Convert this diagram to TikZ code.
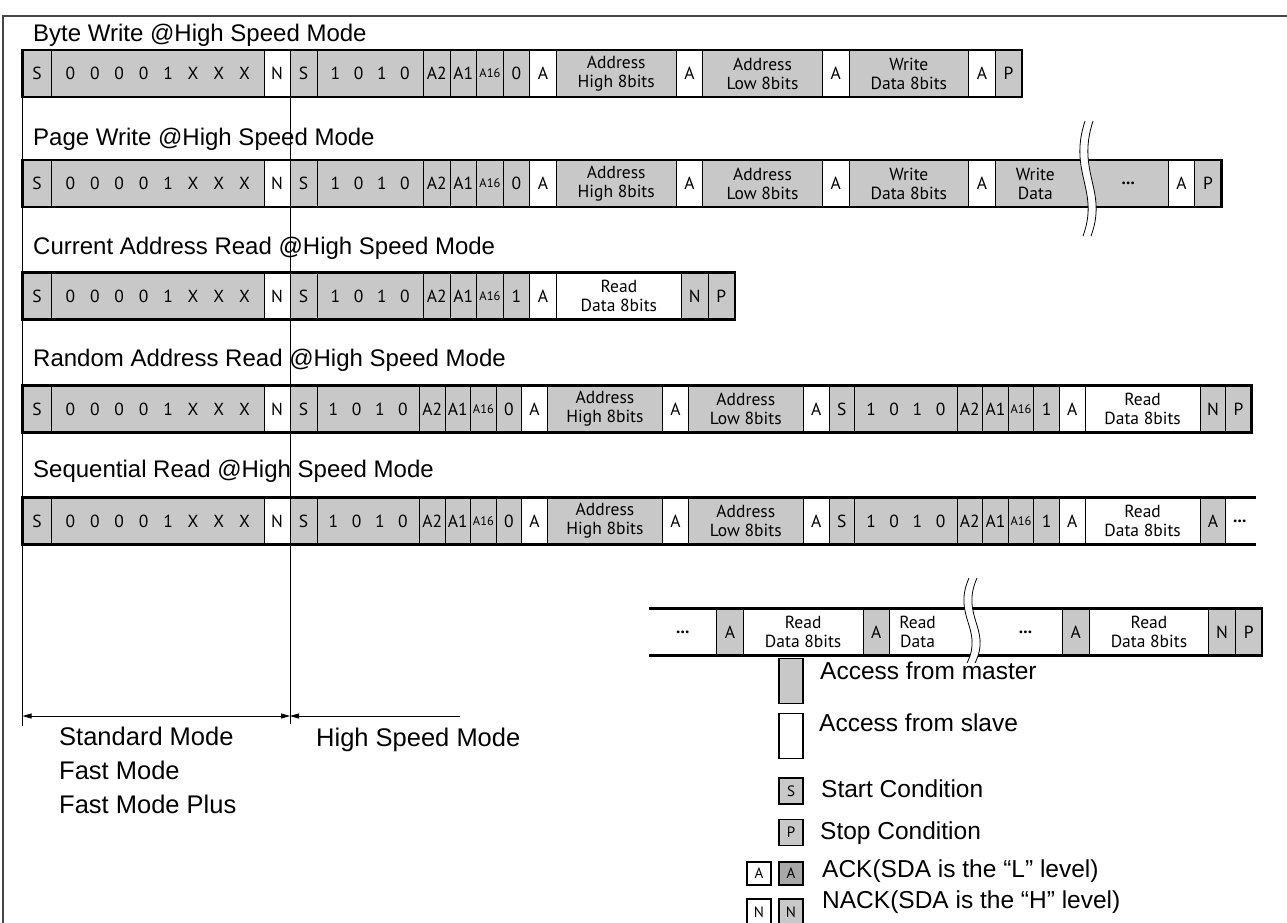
\documentclass[tikz,border=0pt]{standalone}
\usepackage{fontspec}
\setmainfont{Liberation Sans}
\newfontfamily\cellfont{PT Sans}
\usetikzlibrary{positioning,calc,arrows.meta}
\definecolor{mastergray}{RGB}{200,200,200}
\definecolor{ackgray}{RGB}{168,168,168}
\definecolor{frameline}{RGB}{70,70,70}
\newcommand{\cellu}{26.6}
\newcommand{\cellv}{25.6}
\newcommand{\devcode}{0\hspace{.85em}0\hspace{.85em}0\hspace{.85em}0\hspace{.85em}1\hspace{.85em}X\hspace{.85em}X\hspace{.85em}X}
\newcommand{\ctlcode}{1\hspace{.78em}0\hspace{.78em}1\hspace{.78em}0}
\newcommand{\asixteen}{{\fontsize{12.5}{12.5}\selectfont A16}}
\newcommand{\celldots}{\textbf{...}}

% one frame row: name, left x, centre y, list of width/label/fill
\newcommand{\framerow}[4]{%
  \foreach \cw/\lbl/\clr [count=\i, evaluate=\cw as \xe using \xs+\cw,
      remember=\xe as \xs (initially #2)] in {#4}
    \node[cell,fill=\clr,minimum width=\cw pt] (#1-\i) at ({\xs+(\cw)/2},#3) {\lbl};}

% tear mark: x, top, bottom
\newcommand{\tearmark}[3]{%
  \fill[white] (#1+3,#2) .. controls (#1-14,#2+0.45*#3-0.45*#2) and (#1+18,#2+0.6*#3-0.6*#2) .. (#1+1,#3)
     -- (#1+9,#3) .. controls (#1+26,#2+0.6*#3-0.6*#2) and (#1-6,#2+0.45*#3-0.45*#2) .. (#1+11,#2) -- cycle;
  \draw[tear] (#1+3,#2) .. controls (#1-14,#2+0.45*#3-0.45*#2) and (#1+18,#2+0.6*#3-0.6*#2) .. (#1+1,#3);
  \draw[tear] (#1+11,#2) .. controls (#1-6,#2+0.45*#3-0.45*#2) and (#1+26,#2+0.6*#3-0.6*#2) .. (#1+9,#3);}

\begin{document}
\begin{tikzpicture}[x=1pt,y=-1pt,
  cell/.style={draw=black,line width=0.7pt,minimum height=47pt,inner sep=0pt,outer sep=0pt,
               align=center,font=\cellfont\fontsize{17.5}{19}\selectfont},
  celltext/.style={align=center,inner sep=0pt,font=\cellfont\fontsize{17.5}{19}\selectfont},
  rowline/.style={line width=2.2pt},
  ttl/.style={anchor=base west,inner sep=0pt,font=\fontsize{24}{28}\selectfont},
  mode/.style={anchor=base west,inner sep=0pt,font=\fontsize{25.5}{30}\selectfont},
  legtext/.style={anchor=base west,inner sep=0pt,font=\fontsize{24.5}{28}\selectfont},
  legbox/.style={draw=black,line width=1.6pt,minimum width=24pt,inner sep=0pt,outer sep=0pt,
                 font=\cellfont\fontsize{15}{15}\selectfont},
  tear/.style={line width=0.8pt},
  modearr/.style={line width=0.8pt}]
  \useasboundingbox (0,0) rectangle (1287,922);
  \clip (0,0) rectangle (1287,922);
  \draw[frameline,line width=1.4pt] (3,930) -- (3,16) -- (1295,16);

  % titles
  \node[ttl] (t-byte) at (33,41.5)  {Byte Write @High Speed Mode};
  \node[ttl] (t-page) at (33,145.5) {Page Write @High Speed Mode};
  \node[ttl] (t-cur)  at (33,254.5) {Current Address Read @High Speed Mode};
  \node[ttl] (t-rnd)  at (33,366.5) {Random Address Read @High Speed Mode};
  \node[ttl] (t-seq)  at (33,477.5) {Sequential Read @High Speed Mode};

  % byte write
  \framerow{r1}{22.5}{73.5}{29/S/mastergray, 212.5/\devcode/mastergray, 26/N/white, 27/S/mastergray,
    4*\cellu/\ctlcode/mastergray, \cellu/A2/mastergray, \cellu/A1/mastergray, \cellu/\asixteen/mastergray,
    \cellu/0/mastergray, \cellu/A/white, 4.5*\cellu/{Address\\High 8bits}/mastergray, \cellu/A/white,
    4.5*\cellu/{Address\\Low 8bits}/mastergray, \cellu/A/white, 4.5*\cellu/{Write\\Data 8bits}/mastergray,
    \cellu/A/white, \cellu/P/mastergray}
  \draw[rowline] (r1-1.north west) rectangle (r1-17.south east);

  % page write
  \framerow{r2}{22.5}{183.5}{29/S/mastergray, 212.5/\devcode/mastergray, 26/N/white, 27/S/mastergray,
    4*\cellu/\ctlcode/mastergray, \cellu/A2/mastergray, \cellu/A1/mastergray, \cellu/\asixteen/mastergray,
    \cellu/0/mastergray, \cellu/A/white, 4.5*\cellu/{Address\\High 8bits}/mastergray, \cellu/A/white,
    4.5*\cellu/{Address\\Low 8bits}/mastergray, \cellu/A/white, 4.5*\cellu/{Write\\Data 8bits}/mastergray,
    \cellu/A/white, 6.5*\cellu/{}/mastergray, \cellu/A/white, \cellu/P/mastergray}
  \draw[rowline] (r2-1.north west) rectangle (r2-19.south east);
  \node[celltext] (r2-wd) at ($(r2-17.west)+(40,0)$) {Write\\Data};
  \node[celltext] (r2-dots) at ($(r2-17.east)+(-40,0)$) {\celldots};
  \tearmark{1082}{121}{236}

  % current address read
  \framerow{r3}{22.5}{296}{29/S/mastergray, 212.5/\devcode/mastergray, 26/N/white, 27/S/mastergray,
    4*\cellu/\ctlcode/mastergray, \cellu/A2/mastergray, \cellu/A1/mastergray, \cellu/\asixteen/mastergray,
    \cellu/1/mastergray, \cellu/A/white, 4.7*\cellu/{Read\\Data 8bits}/white, \cellu/N/mastergray,
    \cellu/P/mastergray}
  \draw[rowline] (r3-1.north west) rectangle (r3-13.south east);

  % random address read
  \framerow{r4}{22.5}{409}{29/S/mastergray, 212.5/\devcode/mastergray, 26/N/white, 27/S/mastergray,
    4*\cellv/\ctlcode/mastergray, \cellv/A2/mastergray, \cellv/A1/mastergray, \cellv/\asixteen/mastergray,
    \cellv/0/mastergray, \cellv/A/white, 4.5*\cellv/{Address\\High 8bits}/mastergray, \cellv/A/white,
    4.5*\cellv/{Address\\Low 8bits}/mastergray, \cellv/A/white, \cellv/S/mastergray,
    4*\cellv/\ctlcode/mastergray, \cellv/A2/mastergray, \cellv/A1/mastergray, \cellv/\asixteen/mastergray,
    \cellv/1/mastergray, \cellv/A/white, 4.5*\cellv/{Read\\Data 8bits}/white, \cellv/N/mastergray,
    \cellv/P/mastergray}
  \draw[rowline] (r4-1.north west) rectangle (r4-24.south east);

  % sequential read
  \framerow{r5}{22.5}{521}{29/S/mastergray, 212.5/\devcode/mastergray, 26/N/white, 27/S/mastergray,
    4*\cellv/\ctlcode/mastergray, \cellv/A2/mastergray, \cellv/A1/mastergray, \cellv/\asixteen/mastergray,
    \cellv/0/mastergray, \cellv/A/white, 4.5*\cellv/{Address\\High 8bits}/mastergray, \cellv/A/white,
    4.5*\cellv/{Address\\Low 8bits}/mastergray, \cellv/A/white, \cellv/S/mastergray,
    4*\cellv/\ctlcode/mastergray, \cellv/A2/mastergray, \cellv/A1/mastergray, \cellv/\asixteen/mastergray,
    \cellv/1/mastergray, \cellv/A/white, 4.5*\cellv/{Read\\Data 8bits}/white, \cellv/A/mastergray}
  \node[celltext] (r5-dots) at ($(r5-23.east)+(14,0)$) {\celldots};
  \draw[rowline] ($(r5-23.north east)+(30,0)$) -- (r5-1.north west) -- (r5-1.south west)
     -- ($(r5-23.south east)+(30,0)$);

  % sequential read, continued
  \framerow{r6}{716.7}{632}{\cellu/A/mastergray, 4.5*\cellu/{Read\\Data 8bits}/white, \cellu/A/mastergray,
    6.5*\cellu/{}/white, \cellu/A/mastergray, 4.5*\cellu/{Read\\Data 8bits}/white, \cellu/N/mastergray,
    \cellu/P/mastergray}
  \node[celltext] (r6-dots) at ($(r6-1.west)+(-34,0)$) {\celldots};
  \node[celltext] (r6-rd) at ($(r6-4.west)+(28,0)$) {Read\\Data};
  \node[celltext] (r6-dots2) at ($(r6-4.west)+(136,0)$) {\celldots};
  \draw[rowline] ($(r6-1.north west)+(-68,0)$) -- (r6-8.north east) -- (r6-8.south east)
     -- ($(r6-1.south west)+(-68,0)$);
  \tearmark{966}{578}{663}

  % speed mode split
  \coordinate (std-bot) at (22.5,726);
  \coordinate (hs-bot) at (290,724);
  \coordinate (std-l) at (22.5,716);
  \coordinate (hs-m) at (290,716);
  \coordinate (hs-r) at (460,716);
  \draw[modearr] (r1-1.north west) -- (std-bot);
  \draw[modearr] (r1-3.north east) -- (hs-bot);
  \draw[modearr,{Triangle[length=9pt,width=5pt]}-{Triangle[length=9pt,width=5pt]}] (std-l) -- (hs-m);
  \draw[modearr,{Triangle[length=9pt,width=5pt]}-] (hs-m) -- (hs-r);
  \node[mode] (m-std) at (59,745.5) {Standard Mode};
  \node[mode] (m-fast) at ($(m-std.base west)+(0,34)$) {Fast Mode};
  \node[mode] (m-plus) at ($(m-fast.base west)+(0,34)$) {Fast Mode Plus};
  \node[mode] (m-hs) at (316,746.5) {High Speed Mode};

  % legend
  \node[legbox,fill=mastergray,minimum height=45pt] (lg-m) at (791,681) {};
  \node[legbox,fill=white,minimum height=45pt] (lg-s) at (791,736) {};
  \node[legbox,fill=mastergray,minimum height=26pt] (lg-st) at (791,791) {S};
  \node[legbox,fill=mastergray,minimum height=26pt] (lg-sp) at (791,832.5) {P};
  \node[legbox,fill=white,minimum height=23pt] (lg-aw) at (759,873.5) {A};
  \node[legbox,fill=ackgray,minimum height=23pt] (lg-ag) at (791,873.5) {A};
  \node[legbox,fill=white,minimum height=26pt] (lg-nw) at (759,912) {N};
  \node[legbox,fill=mastergray,minimum height=26pt] (lg-ng) at (791,912) {N};
  \node[legtext] (lg-mt) at (820,679) {Access from master};
  \node[legtext] (lg-st-t) at (819,731) {Access from slave};
  \node[legtext] (lg-sc) at (821,797) {Start Condition};
  \node[legtext] (lg-pc) at (820,839) {Stop Condition};
  \node[legtext] (lg-ack) at (822,877) {ACK(SDA is the “L” level)};
  \node[legtext] (lg-nack) at (822,908) {NACK(SDA is the “H” level)};
\end{tikzpicture}
\end{document}
